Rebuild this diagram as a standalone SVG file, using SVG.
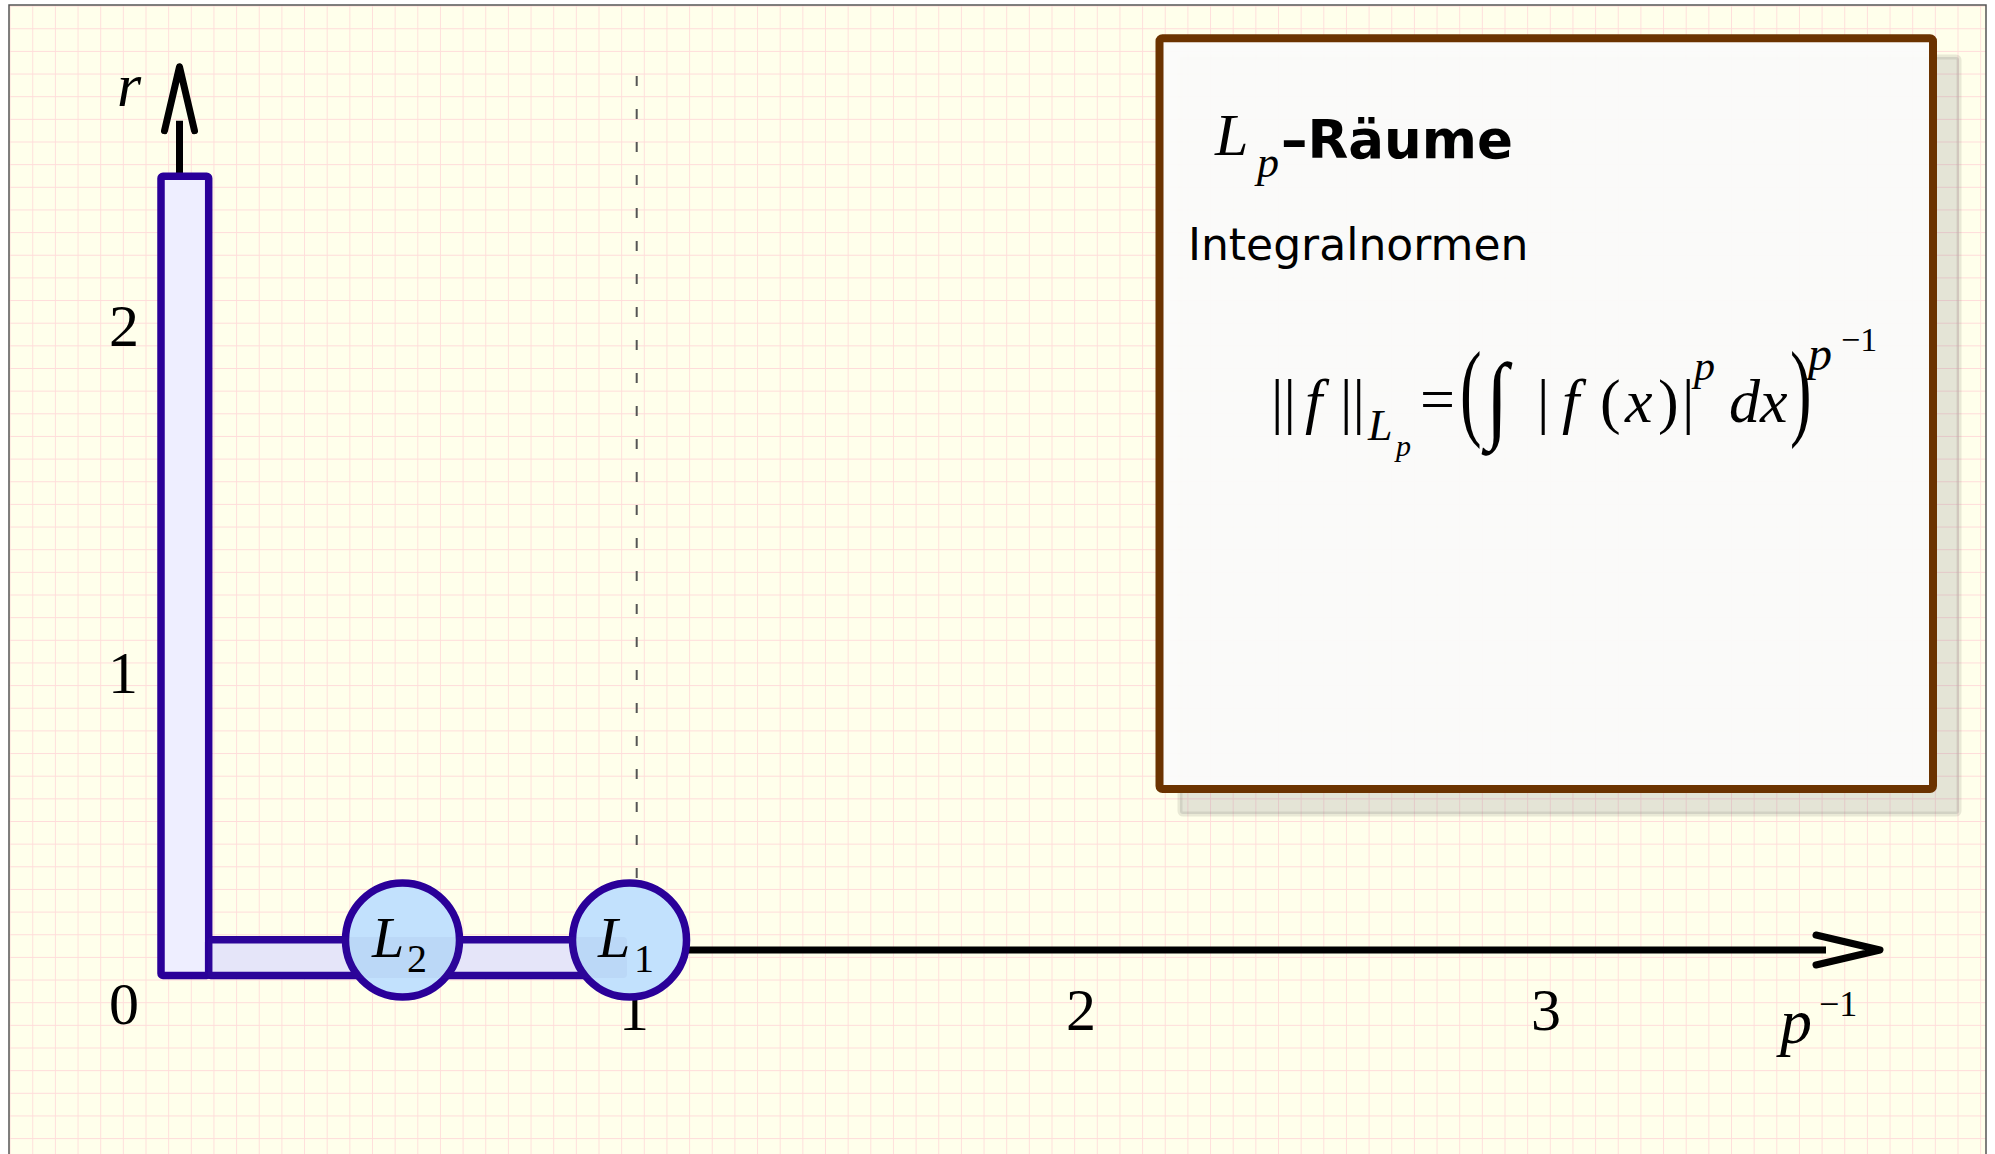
<svg xmlns="http://www.w3.org/2000/svg" width="1995" height="1154" viewBox="0 0 1995 1154">
  <style>
    .serif { font-family: "Liberation Serif", "Times New Roman", serif; fill: #000; }
    .it { font-style: italic; }
    .num { font-family: "Liberation Serif", "Times New Roman", serif; font-size: 60px; text-anchor: middle; fill: #000; }
    .sans { font-family: "DejaVu Sans", "Liberation Sans", sans-serif; fill: #000; }
    .bar { fill: #EEEEFF; stroke: #2A0099; stroke-width: 7.5; stroke-linejoin: round; }
    .node { fill: #C2E1FD; stroke: #2A0099; stroke-width: 7.5; }
    .axis { stroke: #000; stroke-width: 7; fill: none; stroke-linecap: butt; }
  </style>
  <defs>
    <pattern id="grid" patternUnits="userSpaceOnUse" x="9.6" y="5.6" width="22.65" height="22.65">
      <path d="M 0 0 V 22.65 M 0 0 H 22.65" stroke="#FFDCDA" stroke-width="1.8" fill="none"/>
    </pattern>
    <marker id="chev" markerUnits="userSpaceOnUse" viewBox="-16 -22 80 44" refX="0" refY="0" markerWidth="80" markerHeight="44" orient="auto" overflow="visible">
      <path d="M -10 -15 L 54 0 L -10 15" fill="none" stroke="#000" stroke-width="7" stroke-linecap="round" stroke-linejoin="round"/>
    </marker>
  </defs>

  <!-- background -->
  <rect x="0" y="0" width="1995" height="1154" fill="#FFFFFF"/>
  <rect x="9" y="5" width="1977" height="1160" fill="#FFFFEB"/>
  <rect x="9" y="5" width="1977" height="1160" fill="url(#grid)"/>
  <rect x="9" y="5" width="1977" height="1160" fill="none" stroke="#555" stroke-width="1.5"/>

  <!-- dashed guide at p^-1 = 1 -->
  <line x1="636.7" y1="76" x2="636.7" y2="884" stroke="#555" stroke-width="2" stroke-dasharray="10 23"/>

  <!-- connectors (axes) -->
  <g id="connectors">
    <line id="axis-r" class="axis" x1="179.5" y1="600" x2="179.5" y2="120.7" marker-end="url(#chev)"/>
    <line id="axis-p" class="axis" x1="190" y1="950" x2="1826" y2="950" marker-end="url(#chev)"/>
  </g>

  <!-- axis labels -->
  <text class="serif it" x="117" y="106" font-size="62">r</text>
  <text class="num" x="124" y="346">2</text>
  <text class="num" x="123" y="693">1</text>
  <text class="num" x="124" y="1024">0</text>
  <text class="num" x="634" y="1030">1</text>
  <text class="num" x="1081" y="1030">2</text>
  <text class="num" x="1546" y="1030">3</text>
  <text class="serif it" x="1780" y="1043" font-size="64">p</text>
  <text class="serif" x="1819" y="1016" font-size="36">−1</text>

  <!-- bars -->
  <g id="bar-vertical">
    <rect class="bar" x="161" y="176.3" width="47.7" height="799.2" rx="2"/>
  </g>
  <g id="bar-horizontal">
    <rect class="bar" x="208.7" y="939.7" width="414.3" height="35.8" rx="2"/>
  </g>

  <!-- nodes -->
  <g id="node-L2">
    <circle class="node" cx="402.5" cy="940" r="57"/>
  </g>
  <g id="node-L1">
    <circle class="node" cx="629.5" cy="940" r="57"/>
  </g>
  <!-- translucent band of the horizontal bar over the nodes -->
  <rect x="208" y="937" width="419" height="41" rx="4" fill="#5050A0" opacity="0.06"/>
  <g id="node-L2-label">
    <text class="serif it" x="372" y="957" font-size="58">L</text>
    <text class="serif" x="407" y="972" font-size="40">2</text>
  </g>
  <g id="node-L1-label">
    <text class="serif it" x="598" y="957" font-size="58">L</text>
    <text class="serif" x="634" y="972" font-size="40">1</text>
  </g>

  <!-- text box -->
  <g id="textbox">
    <rect x="1180" y="57" width="779" height="757" rx="3" fill="#7A7A80" fill-opacity="0.2" stroke="#6A6A60" stroke-opacity="0.15" stroke-width="5"/>
    <rect x="1159.5" y="38.3" width="773.5" height="750.7" rx="3" fill="#FBFBFA" fill-opacity="0.96" stroke="#6B3300" stroke-width="8"/>
    <text class="serif it" x="1215" y="155" font-size="60">L</text>
    <text class="serif it" x="1257" y="177" font-size="44">p</text>
    <text class="sans" x="1281" y="158" font-size="53" font-weight="bold">–Räume</text>
    <text class="sans" x="1188" y="260" font-size="44">Integralnormen</text>

    <!-- formula -->
    <g id="formula">
      <text class="serif" x="1271" y="422" font-size="62">||</text>
      <text class="serif it" x="1305" y="422" font-size="62">f</text>
      <text class="serif" x="1340" y="422" font-size="62">||</text>
      <text class="serif it" x="1368" y="440" font-size="44">L</text>
      <text class="serif it" x="1396" y="456" font-size="30">p</text>
      <text class="serif" x="1420" y="420" font-size="62">=</text>
      <text class="serif" font-size="108" transform="translate(1460,426) scale(0.6,1)">(</text>
      <text class="serif" font-size="96" font-weight="bold" transform="translate(1486,430) scale(0.85,1)">∫</text>
      <text class="serif" x="1537" y="422" font-size="62">|</text>
      <text class="serif it" x="1562" y="422" font-size="62">f</text>
      <text class="serif" x="1600" y="422" font-size="62">(</text>
      <text class="serif it" x="1625" y="422" font-size="62">x</text>
      <text class="serif" x="1658" y="422" font-size="62">)</text>
      <text class="serif" x="1682" y="422" font-size="62">|</text>
      <text class="serif it" x="1694" y="380" font-size="42">p</text>
      <text class="serif it" x="1729" y="422" font-size="62">dx</text>
      <text class="serif" font-size="108" transform="translate(1790,426) scale(0.6,1)">)</text>
      <text class="serif it" x="1808" y="370" font-size="48">p</text>
      <text class="serif" x="1841" y="351" font-size="34">−1</text>
    </g>
  </g>
</svg>
